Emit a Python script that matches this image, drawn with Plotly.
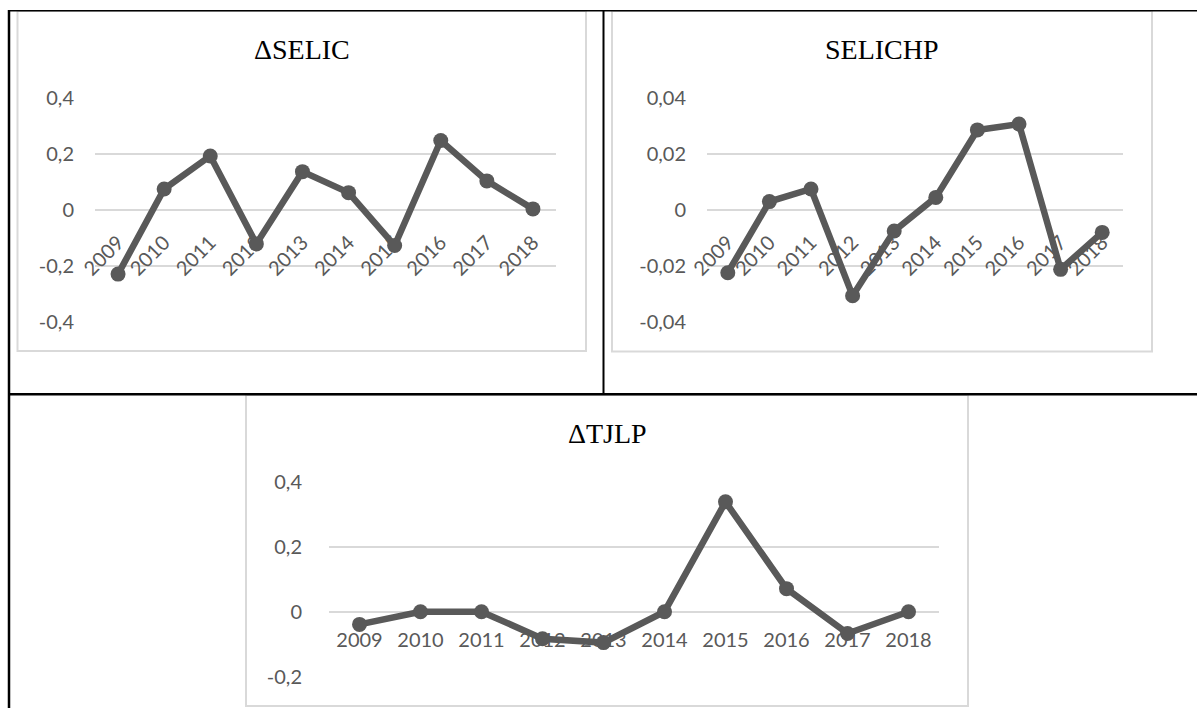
import plotly.graph_objects as go

# Years shared by the three panels
YEARS = ["2009", "2010", "2011", "2012", "2013", "2014", "2015", "2016", "2017", "2018"]

# Series values
D_SELIC = [-0.229, 0.075, 0.193, -0.121, 0.137, 0.062, -0.127, 0.248, 0.104, 0.004]
SELICHP = [-0.0224, 0.0030, 0.0075, -0.0306, -0.0075, 0.0045, 0.0286, 0.0307, -0.0212, -0.0080]
D_TJLP = [-0.039, 0.0, 0.0, -0.083, -0.095, 0.0, 0.338, 0.071, -0.067, 0.0]

# Y tick values and their labels (comma decimals)
SELIC_TICKS = [-0.4, -0.2, 0, 0.2, 0.4]
SELIC_TICK_TEXT = ["-0,4", "-0,2", "0", "0,2", "0,4"]
SELICHP_TICKS = [-0.04, -0.02, 0, 0.02, 0.04]
SELICHP_TICK_TEXT = ["-0,04", "-0,02", "0", "0,02", "0,04"]
TJLP_TICKS = [-0.2, 0, 0.2, 0.4]
TJLP_TICK_TEXT = ["-0,2", "0", "0,2", "0,4"]

TITLES = ["ΔSELIC", "SELICHP", "ΔTJLP"]

W, H = 1197, 708
LINE_COLOR = "#595959"
GRID_COLOR = "#d9d9d9"
TICK_FONT = dict(family="Lato, Open Sans, sans-serif", size=20, color=LINE_COLOR)
TITLE_FONT = dict(family="Liberation Serif, Times New Roman, serif", size=28, color="#000000")


def fx(px):
    return px / W


def fy(px):
    return 1 - px / H


fig = go.Figure()

panels = [
    # (values, axis suffix, plot box px (x0, x1, ytop, ybottom), y range, ticks, tick text, angle, title pos)
    (D_SELIC, "", (95, 556, 98, 322), [-0.4, 0.4], SELIC_TICKS, SELIC_TICK_TEXT, -45, (302, 50)),
    (SELICHP, "2", (707, 1123, 98, 322), [-0.04, 0.04], SELICHP_TICKS, SELICHP_TICK_TEXT, -45, (882, 50)),
    (D_TJLP, "3", (329, 939, 481.7, 676.7), [-0.2, 0.4], TJLP_TICKS, TJLP_TICK_TEXT, 0, (607, 433)),
]

annotations = []
for i, (vals, s, box, yr, tv, tt, ang, tpos) in enumerate(panels):
    x0, x1, yt, yb = box
    fig.add_trace(go.Scatter(
        x=YEARS, y=vals, mode="lines+markers",
        xaxis="x" + s, yaxis="y" + s,
        line=dict(color=LINE_COLOR, width=6.5, shape="linear"),
        marker=dict(color=LINE_COLOR, size=15),
        cliponaxis=False, showlegend=False, hoverinfo="x+y",
    ))
    # pixel row of the zero value, where the category axis crosses
    zero_px = yt + (yr[1] - 0) / (yr[1] - yr[0]) * (yb - yt)
    fig.layout["xaxis" + s] = dict(
        domain=[fx(x0), fx(x1)], anchor="free", position=fy(zero_px),
        type="category", range=[-0.5, 9.5], showgrid=False, zeroline=False,
        showline=False, ticks="", tickangle=ang, tickfont=TICK_FONT,
        ticklabelstandoff=16 if ang else 14, fixedrange=True, automargin=False,
    )
    fig.layout["yaxis" + s] = dict(
        domain=[fy(yb), fy(yt)], anchor="x" + s, range=yr,
        tickvals=tv, ticktext=tt, showgrid=True, gridcolor=GRID_COLOR, gridwidth=2,
        zeroline=False, showline=False, ticks="", tickfont=TICK_FONT,
        ticklabelstandoff=20 if ang else 26, fixedrange=True, automargin=False,
    )
    annotations.append(dict(
        text=TITLES[i], x=fx(tpos[0]), y=fy(tpos[1]), xref="paper", yref="paper",
        showarrow=False, xanchor="center", yanchor="middle", font=TITLE_FONT,
    ))

shapes = []
# light chart-area frames
for (x0, y0, x1, y1) in [(17.5, 11, 586, 351), (612, 11, 1152, 351.5), (246, 395, 968, 706)]:
    shapes.append(dict(type="rect", xref="paper", yref="paper",
                       x0=fx(x0), x1=fx(x1), y0=fy(y1), y1=fy(y0),
                       line=dict(color=GRID_COLOR, width=2), fillcolor="rgba(0,0,0,0)", layer="below"))
# table rules
for (x0, y0, x1, y1, w) in [(8, 10.7, 1197, 10.7, 1.5), (9, 10, 9, 708, 2.5),
                            (603.5, 10, 603.5, 394.3, 2), (8, 394.3, 1197, 394.3, 2.5)]:
    shapes.append(dict(type="line", xref="paper", yref="paper",
                       x0=fx(x0), x1=fx(x1), y0=fy(y0), y1=fy(y1),
                       line=dict(color="#000000", width=w), layer="above"))

fig.update_layout(
    width=W, height=H, margin=dict(l=0, r=0, t=0, b=0, autoexpand=False),
    paper_bgcolor="#ffffff", plot_bgcolor="rgba(0,0,0,0)",
    annotations=annotations, shapes=shapes, showlegend=False,
)

fig.write_html("out.html", config={"displayModeBar": False})
